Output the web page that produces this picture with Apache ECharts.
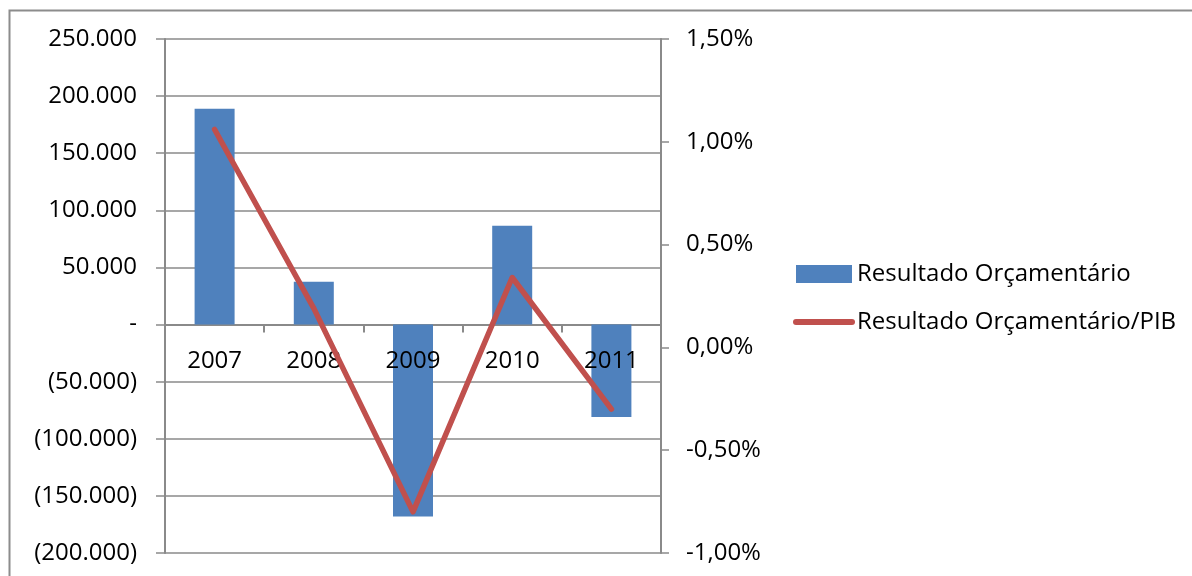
<!DOCTYPE html>
<html>
<head>
<meta charset="utf-8">
<script src="https://cdn.jsdelivr.net/npm/echarts@6/dist/echarts.min.js"></script>
<style>
html,body{margin:0;padding:0;background:#fff;}
#chart{width:1192px;height:576px;}
</style>
</head>
<body>
<div id="chart"></div>
<script>
const categories = ['2007', '2008', '2009', '2010', '2011'];
const resultadoOrcamentario = [189000, 37500, -168000, 86500, -81000];
const resultadoPIB = [1.06, 0.19, -0.80, 0.34, -0.30];
const seriesNames = ['Resultado Orçamentário', 'Resultado Orçamentário/PIB'];
const leftTicks = {min: -200000, max: 250000, interval: 50000};
const rightTicks = {min: -1.0, max: 1.5, interval: 0.5};

const FONT = 'Open Sans';
const AXIS_GRAY = '#8a8a8a';
const GRID_TOP = 39, GRID_BOTTOM = 23, H = 576;

function fmtLeft(v) {
  if (v === 0) return '-';
  const s = Math.abs(v).toLocaleString('de-DE');
  return v < 0 ? '(' + s + ')' : s;
}
function fmtRight(v) {
  return v.toFixed(2).replace('.', ',') + '%';
}

// distance from the bottom of the plot to the zero line of the left axis
const plotH = H - GRID_TOP - GRID_BOTTOM;
const zeroFromBottom = plotH * (0 - leftTicks.min) / (leftTicks.max - leftTicks.min);

const chart = echarts.init(document.getElementById('chart'), null, {renderer: 'canvas'});
chart.setOption({
  animation: false,
  backgroundColor: '#ffffff',
  graphic: [{
    type: 'rect',
    shape: {x: 9.5, y: 10.5, width: 1300, height: 700},
    style: {fill: 'none', stroke: '#8c8c8c', lineWidth: 2},
    silent: true
  }],
  grid: {left: 165, right: 531, top: GRID_TOP, bottom: GRID_BOTTOM, containLabel: false, outerBoundsMode: 'none'},
  legend: {
    orient: 'vertical',
    left: 793,
    top: 262,
    padding: 0,
    itemGap: 24,
    itemWidth: 56,
    itemHeight: 18,
    textStyle: {fontFamily: FONT, fontSize: 24, color: '#000'},
    data: [
      {name: seriesNames[0], icon: 'rect'},
      {
        name: seriesNames[1],
        itemStyle: {color: 'rgba(0,0,0,0)', borderColor: 'rgba(0,0,0,0)', borderWidth: 0},
        lineStyle: {color: '#c0504d', width: 6, cap: 'round'}
      }
    ]
  },
  xAxis: [{
    type: 'category',
    data: categories,
    boundaryGap: true,
    axisLine: {onZero: true, onZeroAxisIndex: 0, lineStyle: {color: AXIS_GRAY, width: 2}},
    axisTick: {show: true, length: 8, inside: false, alignWithLabel: false, lineStyle: {color: AXIS_GRAY, width: 2}},
    axisLabel: {show: false},
    splitLine: {show: false}
  }, {
    type: 'category',
    data: categories,
    boundaryGap: true,
    position: 'bottom',
    offset: -zeroFromBottom,
    z: 3,
    axisLine: {show: false, onZero: false},
    axisTick: {show: false},
    axisLabel: {fontFamily: FONT, fontSize: 24, color: '#000', margin: 25},
    splitLine: {show: false}
  }],
  yAxis: [{
    type: 'value',
    position: 'left',
    min: leftTicks.min,
    max: leftTicks.max,
    interval: leftTicks.interval,
    axisLine: {show: true, lineStyle: {color: AXIS_GRAY, width: 2}},
    axisTick: {show: true, length: 9, lineStyle: {color: AXIS_GRAY, width: 1.5}},
    axisLabel: {fontFamily: FONT, fontSize: 24, color: '#000', margin: 28, formatter: fmtLeft},
    splitLine: {show: true, lineStyle: {color: AXIS_GRAY, width: 1.5}}
  }, {
    type: 'value',
    position: 'right',
    min: rightTicks.min,
    max: rightTicks.max,
    interval: rightTicks.interval,
    axisLine: {show: true, lineStyle: {color: AXIS_GRAY, width: 2}},
    axisTick: {show: true, length: 8, lineStyle: {color: AXIS_GRAY, width: 1.5}},
    axisLabel: {fontFamily: FONT, fontSize: 24, color: '#000', margin: 25, formatter: fmtRight},
    splitLine: {show: false}
  }],
  series: [{
    name: seriesNames[0],
    type: 'bar',
    xAxisIndex: 0,
    yAxisIndex: 0,
    data: resultadoOrcamentario,
    barWidth: 40,
    z: 2,
    itemStyle: {color: '#4f81bd'}
  }, {
    name: seriesNames[1],
    type: 'line',
    xAxisIndex: 0,
    yAxisIndex: 1,
    data: resultadoPIB,
    showSymbol: false,
    symbol: 'none',
    z: 4,
    lineStyle: {color: '#c0504d', width: 5.5, cap: 'round', join: 'round'},
    itemStyle: {color: '#c0504d'}
  }]
});
</script>
</body>
</html>
